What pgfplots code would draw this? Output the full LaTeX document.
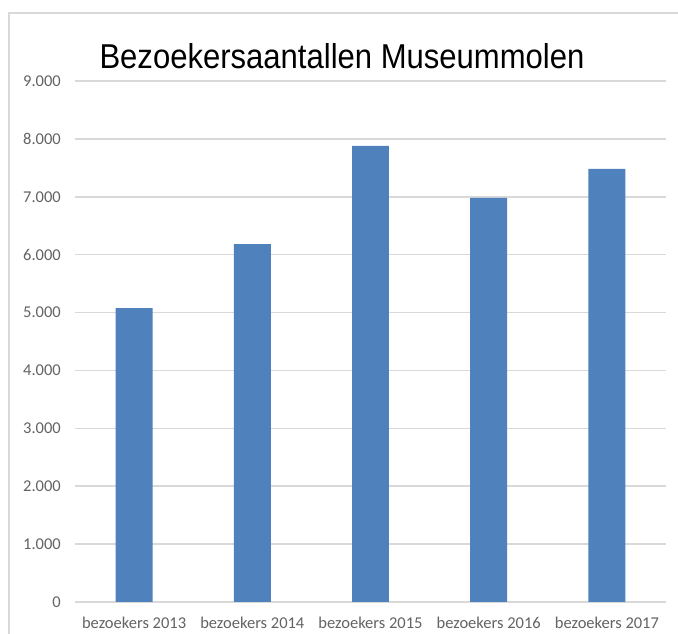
\documentclass[border=0pt]{standalone}
\usepackage{pgfplots}
\pgfplotsset{compat=1.18}
\usepackage{fontspec}
\setmainfont{Carlito}
\newfontfamily\titlefont[FakeStretch=0.9]{Liberation Sans}
\definecolor{barblue}{HTML}{4F81BD}
\definecolor{gridgrey}{HTML}{D9D9D9}
\definecolor{labelgrey}{HTML}{636363}
\begin{document}
\begin{tikzpicture}
\useasboundingbox (0,0) rectangle (678pt,634pt);
\fill[white] (0,0) rectangle (678pt,634pt);
\draw[gridgrey, line width=1.5pt] (9pt,0) -- (9pt,621pt) -- (678pt,621pt);
\node[font=\titlefont\fontsize{34.5}{40}\selectfont, anchor=base, inner sep=0pt] at (342pt,565pt) {Bezoekersaantallen Museummolen};
\begin{axis}[
  at={(75pt,32pt)}, anchor=south west,
  scale only axis, width=591pt, height=521pt,
  xmin=-0.5, xmax=4.5, ymin=0, ymax=9000,
  enlargelimits=false,
  axis line style={draw=none},
  ytick={0,1000,...,9000},
  ymajorgrids, grid style={gridgrey, line width=1.5pt},
  major tick length=0pt,
  xtick={0,1,2,3,4},
  xticklabels={bezoekers 2013, bezoekers 2014, bezoekers 2015, bezoekers 2016, bezoekers 2017},
  /pgf/number format/assume math mode=true,
  /pgf/number format/1000 sep={.},
  scaled y ticks=false,
  ticklabel style={font=\fontsize{16.5}{19}\selectfont, text=labelgrey, inner sep=0pt},
  yticklabel shift=14pt,
  xticklabel shift=15pt,
]
\addplot[ybar, fill=barblue, draw=none, bar width=0.313] coordinates {(0,5075) (1,6180) (2,7880) (3,6980) (4,7480)};
\end{axis}
\end{tikzpicture}
\end{document}
